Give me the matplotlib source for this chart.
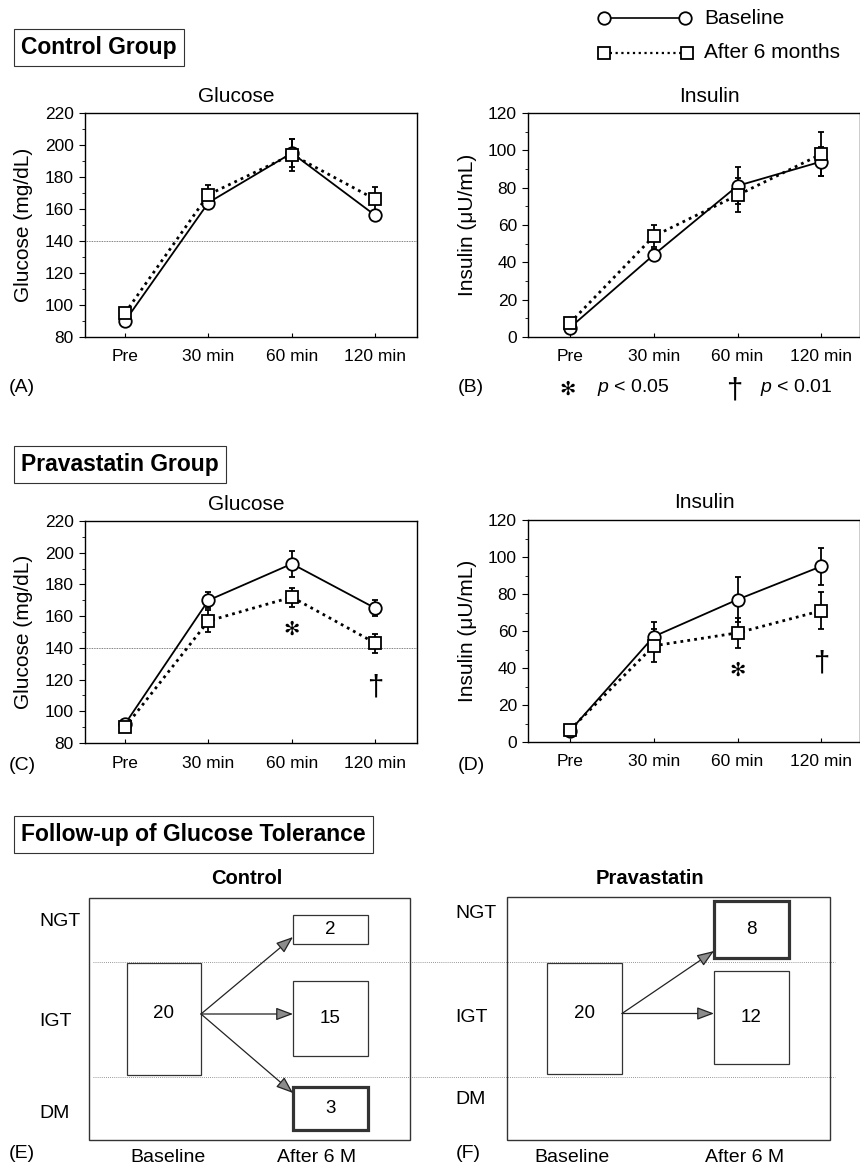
import numpy as np
import matplotlib
matplotlib.use("Agg")
import matplotlib.pyplot as plt
from matplotlib.patches import Rectangle
from matplotlib.lines import Line2D
from matplotlib.ticker import MultipleLocator

plt.rcParams['font.family'] = ['Liberation Sans', 'DejaVu Sans']
plt.rcParams['mathtext.fontset'] = 'custom'
plt.rcParams['mathtext.it'] = 'Liberation Sans:italic'
plt.rcParams['mathtext.rm'] = 'Liberation Sans'

# OGTT sampling times
time_labels = ["Pre", "30 min", "60 min", "120 min"]

# control group (mean, SE)
ctrl_glu_base = [90, 164, 195, 156]
ctrl_glu_base_se = [2, 4, 9, 3]
ctrl_glu_6m = [95, 169, 194, 166]
ctrl_glu_6m_se = [3, 6, 10, 8]
ctrl_ins_base = [5, 44, 81, 94]
ctrl_ins_base_se = [1, 3, 10, 8]
ctrl_ins_6m = [7.5, 54, 76, 98]
ctrl_ins_6m_se = [1.5, 6, 9, 12]

# pravastatin group (mean, SE)
prav_glu_base = [92, 170, 193, 165]
prav_glu_base_se = [2, 5, 8, 5]
prav_glu_6m = [90, 157, 172, 143]
prav_glu_6m_se = [2, 7, 6, 6]
prav_ins_base = [6, 57, 77, 95]
prav_ins_base_se = [1, 8, 12, 10]
prav_ins_6m = [6.5, 52, 59, 71]
prav_ins_6m_se = [1, 9, 8, 10]

# significance vs baseline
prav_glu_sig = ["", "", "\u273b", "\u2020"]
prav_ins_sig = ["", "", "\u273b", "\u2020"]

# glucose tolerance follow-up (number of subjects)
gt_categories = ["NGT", "IGT", "DM"]
ctrl_gt_base = [0, 20, 0]
ctrl_gt_6m = [2, 15, 3]
prav_gt_base = [0, 20, 0]
prav_gt_6m = [8, 12, 0]

W, H = 860, 1165
fig = plt.figure(figsize=(W / 100, H / 100), dpi=100)


def axes_px(x0, y0, x1, y1):
    return fig.add_axes([x0 / W, 1 - y1 / H, (x1 - x0) / W, (y1 - y0) / H])


# font size and drop below the lower error bar (points) for each mark
sig_style = {"\u273b": (14, -17), "\u2020": (21, -25)}


def ogtt_panel(ax, base, base_se, after, after_se, ylim, xlim, ylabel,
               label_x, threshold=None, sig=None):
    x = np.arange(len(time_labels))
    if threshold is not None:
        ax.axhline(threshold, color="#555555", lw=0.6, ls=(0, (1, 1)), zorder=1)
    eb = dict(fmt="none", ecolor="black", elinewidth=1.3, capsize=2.5,
              capthick=1.3, zorder=2)
    ax.errorbar(x, base, yerr=base_se, **eb)
    ax.errorbar(x, after, yerr=after_se, **eb)
    ax.plot(x, base, color="black", lw=1.3, marker="o", ms=9, mfc="white",
            mec="black", mew=1.3, zorder=3)
    ax.plot(x, after, color="black", lw=2.0, ls=(0, (1, 1.5)), marker="s",
            ms=8.5, mfc="white", mec="black", mew=1.3, zorder=4)
    if sig is not None:
        for xi, yi, ei, s in zip(x, after, after_se, sig):
            if s:
                fs, dy = sig_style[s]
                ax.annotate(s, (xi, yi - ei), xytext=(0, dy),
                            textcoords="offset points", ha="center",
                            va="center", fontsize=fs)
    ax.set_xlim(*xlim)
    ax.set_ylim(*ylim)
    ax.set_xticks(x, time_labels)
    ax.tick_params(axis="x", direction="in", length=3, pad=9, labelsize=12.5)
    ax.yaxis.set_major_locator(MultipleLocator(20))
    ax.yaxis.set_minor_locator(MultipleLocator(10))
    ax.tick_params(axis="y", which="major", direction="out", length=4,
                   pad=4, labelsize=12.5)
    ax.tick_params(axis="y", which="minor", direction="out", length=2)
    for sp in ax.spines.values():
        sp.set_linewidth(1.0)
    ax.set_ylabel(ylabel, fontsize=15)
    ax.yaxis.set_label_coords(label_x, 0.5)


ax_a = axes_px(85, 113, 417, 337)
ogtt_panel(ax_a, ctrl_glu_base, ctrl_glu_base_se, ctrl_glu_6m, ctrl_glu_6m_se,
           (80, 220), (-0.48, 3.5), "Glucose (mg/dL)", -0.157, threshold=140)

ax_b = axes_px(528, 113, 860, 337)
ogtt_panel(ax_b, ctrl_ins_base, ctrl_ins_base_se, ctrl_ins_6m, ctrl_ins_6m_se,
           (0, 120), (-0.5, 3.46), "Insulin (\u03bcU/mL)", -0.155)

ax_c = axes_px(85, 521, 417, 743)
ogtt_panel(ax_c, prav_glu_base, prav_glu_base_se, prav_glu_6m, prav_glu_6m_se,
           (80, 220), (-0.48, 3.5), "Glucose (mg/dL)", -0.157, threshold=140,
           sig=prav_glu_sig)

ax_d = axes_px(528, 520, 860, 742)
ogtt_panel(ax_d, prav_ins_base, prav_ins_base_se, prav_ins_6m, prav_ins_6m_se,
           (0, 120), (-0.5, 3.46), "Insulin (\u03bcU/mL)", -0.155,
           sig=prav_ins_sig)

# overlay in pixel units for headers, legend and the flow diagrams
ov = fig.add_axes([0, 0, 1, 1])
ov.set_xlim(0, W)
ov.set_ylim(H, 0)
ov.axis("off")
ov.patch.set_visible(False)

hdr = dict(fontsize=16.5, weight="bold", ha="left", va="center",
           bbox=dict(boxstyle="square,pad=0.3", fc="white", ec="#333333", lw=0.8))
ov.text(21, 47.5, "Control Group", **hdr)
ov.text(21, 464.5, "Pravastatin Group", **hdr)
ov.text(21, 834.5, "Follow-up of Glucose Tolerance", **hdr)

# legend
ov.add_line(Line2D([604, 685], [18, 18], color="black", lw=1.2, marker="o",
                   ms=9, mfc="white", mec="black", mew=1.3))
ov.add_line(Line2D([604, 687], [53, 53], color="black", lw=1.6,
                   ls=(0, (1, 1.6)), marker="s", ms=8.5, mfc="white",
                   mec="black", mew=1.3))
ov.text(704, 18, "Baseline", fontsize=15, ha="left", va="center")
ov.text(704, 53, "After 6 months", fontsize=15, ha="left", va="center")

# panel titles
for x, y, t in [(236, 97, "Glucose"), (709, 97, "Insulin"),
                (246, 505, "Glucose"), (704, 502, "Insulin")]:
    ov.text(x, y, t, fontsize=15, ha="center", va="center")

# panel letters
for x, y, t in [(9, 388, "(A)"), (458, 388, "(B)"), (9, 765, "(C)"),
                (458, 765, "(D)"), (9, 1153, "(E)"), (456, 1153, "(F)")]:
    ov.text(x, y, t, fontsize=14, ha="left", va="center")

# significance key
ov.text(568, 390, "\u273b", fontsize=14, ha="center", va="center")
ov.text(597, 388, "$p$ < 0.05", fontsize=14, ha="left", va="center")
ov.text(734, 391, "\u2020", fontsize=21, ha="center", va="center")
ov.text(760, 388, "$p$ < 0.01", fontsize=14, ha="left", va="center")

# flow diagrams
row_lines = [962, 1077]
for yl in row_lines:
    ov.plot([93, 835], [yl, yl], color="#777777", lw=0.6, ls=(0, (1, 1.5)),
            zorder=1)


def box(x0, y0, x1, y1, lw=0.9):
    ov.add_patch(Rectangle((x0, y0), x1 - x0, y1 - y0, fc="white",
                           ec="#333333", lw=lw, zorder=2))


def flow_panel(title, title_x, frame, label_x, label_ys, base_counts,
               base_box, after_counts, after_boxes, thick, xlab_x):
    fx0, fy0, fx1, fy1 = frame
    ov.add_patch(Rectangle((fx0, fy0), fx1 - fx0, fy1 - fy0, fc="none",
                           ec="#333333", lw=1.0, zorder=1))
    ov.text(title_x, 878, title, fontsize=14.5, weight="bold", ha="center",
            va="center")
    for cat, yc in zip(gt_categories, label_ys):
        ov.text(label_x, yc, cat, fontsize=14, ha="left", va="center")
    bi = int(np.argmax(base_counts))
    bx0, by0, bx1, by1 = base_box
    box(bx0, by0, bx1, by1)
    y_start = (by0 + by1) / 2 - 5
    ov.text((bx0 + bx1) / 2, y_start, str(base_counts[bi]), fontsize=13.5,
            ha="center", va="center", zorder=3)
    for i, n in enumerate(after_counts):
        if n == 0:
            continue
        ax0, ay0, ax1, ay1 = after_boxes[i]
        box(ax0, ay0, ax1, ay1, lw=2.3 if thick[i] else 0.9)
        ov.text((ax0 + ax1) / 2, (ay0 + ay1) / 2, str(n), fontsize=13.5,
                ha="center", va="center", zorder=3)
        y_end = float(np.clip(y_start, ay0 + 6, ay1 - 7))
        ov.annotate("", xy=(ax0, y_end), xytext=(bx1, y_start),
                    arrowprops=dict(arrowstyle="-|>,head_length=0.8,head_width=0.3",
                                    lw=0.9, ec="#222222", fc="#8c8c8c",
                                    shrinkA=0, shrinkB=0, mutation_scale=13),
                    zorder=3)
    ov.text(xlab_x[0], 1157, "Baseline", fontsize=14, ha="center", va="center")
    ov.text(xlab_x[1], 1157, "After 6 M", fontsize=14, ha="center", va="center")


flow_panel("Control", 247, (89, 898, 410, 1140), 39, [921, 1022, 1113],
           ctrl_gt_base, (127, 963, 201, 1075), ctrl_gt_6m,
           [(293, 915, 368, 944), (293, 981, 368, 1056), (293, 1087, 368, 1130)],
           [False, False, True], (168, 317))

flow_panel("Pravastatin", 650, (507, 897, 830, 1140), 455, [913, 1017, 1100],
           prav_gt_base, (547, 963, 622, 1074), prav_gt_6m,
           [(714, 901, 789, 958), (714, 971, 789, 1064), None],
           [True, False, False], (572, 745))

fig.savefig("out.png", dpi=100)
